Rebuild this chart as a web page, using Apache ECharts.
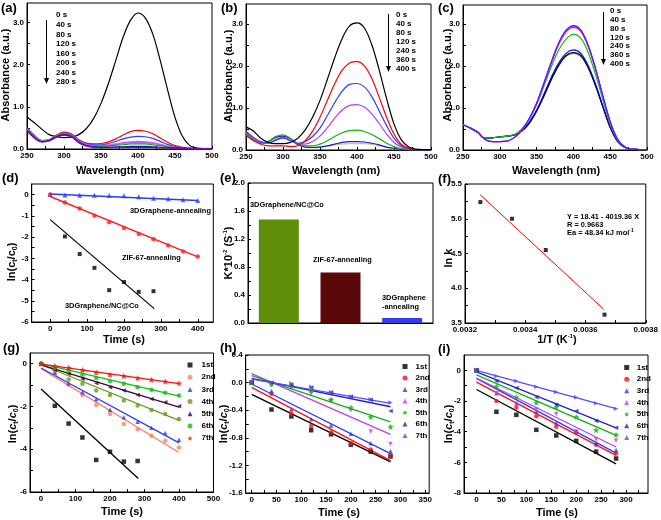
<!DOCTYPE html>
<html><head><meta charset="utf-8">
<script src="https://cdn.jsdelivr.net/npm/echarts@6/dist/echarts.min.js"></script>
<style>html,body{margin:0;padding:0;background:#fff}#c{width:661px;height:520px}</style>
</head><body><div id="c"></div>
<script>
const FONT = '"Liberation Sans", Arial, sans-serif';

// ---------- spectra (a)(b)(c) ----------
const wavelengths = [250,260,270,280,290,300,310,320,330,340,350,360,370,380,390,400,410,420,430,440,450,460,470,480,490,500];
const aLabels = ['0 s','40 s','80 s','120 s','160 s','200 s','240 s','280 s'];
const a0   = [0.76,0.62,0.47,0.34,0.29,0.27,0.28,0.34,0.48,0.72,1.08,1.55,2.1,2.65,3.05,3.22,3.1,2.72,2.1,1.4,0.75,0.3,0.08,0.02,0.01,0.01];
const a40  = [0.5,0.32,0.2,0.22,0.33,0.4,0.36,0.22,0.14,0.12,0.13,0.17,0.24,0.33,0.41,0.44,0.42,0.36,0.26,0.16,0.08,0.04,0.02,0.01,0.01,0.01];
const a80  = [0.5,0.32,0.2,0.22,0.32,0.38,0.34,0.2,0.13,0.1,0.1,0.13,0.18,0.24,0.28,0.3,0.29,0.25,0.18,0.11,0.06,0.03,0.02,0.01,0.01,0.01];
const a120 = [0.48,0.3,0.19,0.21,0.31,0.37,0.33,0.19,0.11,0.08,0.08,0.1,0.12,0.15,0.17,0.18,0.17,0.15,0.11,0.07,0.04,0.02,0.01,0.01,0.01,0.01];
const a160 = [0.47,0.29,0.19,0.21,0.3,0.36,0.32,0.18,0.1,0.07,0.07,0.08,0.1,0.13,0.15,0.15,0.15,0.13,0.1,0.06,0.03,0.02,0.01,0.01,0.01,0.01];
const a200 = [0.45,0.28,0.18,0.2,0.3,0.35,0.31,0.17,0.09,0.06,0.06,0.07,0.09,0.1,0.12,0.12,0.12,0.1,0.08,0.05,0.03,0.02,0.01,0.01,0.01,0.01];
const a240 = [0.44,0.27,0.17,0.2,0.29,0.34,0.3,0.16,0.08,0.05,0.04,0.04,0.05,0.05,0.06,0.06,0.06,0.05,0.04,0.03,0.02,0.02,0.01,0.01,0.01,0.01];
const a280 = [0.43,0.26,0.17,0.19,0.28,0.33,0.29,0.15,0.07,0.04,0.03,0.03,0.03,0.04,0.04,0.04,0.04,0.04,0.03,0.02,0.02,0.01,0.01,0.01,0.01,0.01];

const bLabels = ['0 s','40 s','80 s','120 s','240 s','360 s','400 s'];
const b0   = [0.55,0.45,0.28,0.18,0.15,0.15,0.18,0.28,0.48,0.78,1.18,1.68,2.2,2.65,2.95,3.02,2.9,2.5,1.9,1.22,0.62,0.24,0.07,0.02,0.01,0.01];
const b40  = [0.35,0.22,0.14,0.1,0.1,0.1,0.08,0.1,0.22,0.45,0.78,1.18,1.58,1.9,2.07,2.1,2.0,1.7,1.25,0.78,0.38,0.13,0.04,0.01,0.01,0.01];
const b80  = [0.45,0.3,0.2,0.17,0.23,0.28,0.22,0.16,0.2,0.32,0.52,0.82,1.13,1.4,1.56,1.58,1.5,1.27,0.93,0.58,0.28,0.1,0.03,0.01,0.01,0.01];
const b120 = [0.42,0.28,0.18,0.16,0.25,0.3,0.25,0.15,0.14,0.2,0.33,0.53,0.76,0.95,1.06,1.08,1.02,0.86,0.63,0.38,0.18,0.07,0.02,0.01,0.01,0.01];
const b240 = [0.38,0.25,0.17,0.2,0.32,0.36,0.28,0.15,0.1,0.1,0.14,0.22,0.32,0.41,0.46,0.47,0.44,0.37,0.27,0.16,0.08,0.03,0.01,0.01,0.01,0.01];
const b360 = [0.4,0.25,0.17,0.2,0.3,0.33,0.26,0.13,0.07,0.06,0.07,0.1,0.14,0.18,0.2,0.2,0.19,0.16,0.12,0.07,0.04,0.02,0.01,0.01,0.01,0.01];
const b400 = [0.38,0.24,0.16,0.2,0.3,0.32,0.25,0.12,0.07,0.06,0.07,0.09,0.12,0.14,0.15,0.15,0.15,0.13,0.1,0.06,0.03,0.02,0.01,0.01,0.01,0.01];

const cLabels = ['0 s','40 s','80 s','120 s','240 s','360 s','400 s'];
const c0   = [0.6,0.52,0.42,0.25,0.2,0.2,0.21,0.3,0.48,0.75,1.12,1.6,2.1,2.55,2.85,2.96,2.86,2.5,1.95,1.3,0.68,0.26,0.07,0.02,0.01,0.01];
const c40  = [0.6,0.52,0.42,0.25,0.2,0.2,0.21,0.3,0.47,0.74,1.1,1.58,2.08,2.53,2.83,2.94,2.84,2.48,1.93,1.28,0.67,0.25,0.07,0.02,0.01,0.01];
const c80  = [0.6,0.52,0.42,0.25,0.2,0.2,0.21,0.3,0.47,0.73,1.09,1.57,2.06,2.51,2.81,2.92,2.82,2.46,1.92,1.27,0.66,0.25,0.07,0.02,0.01,0.01];
const c120 = [0.6,0.52,0.42,0.28,0.29,0.31,0.33,0.37,0.5,0.74,1.08,1.52,1.98,2.38,2.64,2.75,2.66,2.32,1.8,1.2,0.62,0.24,0.07,0.02,0.01,0.01];
const c240 = [0.6,0.52,0.42,0.28,0.29,0.31,0.33,0.36,0.46,0.66,0.95,1.33,1.73,2.07,2.3,2.38,2.3,2.01,1.57,1.05,0.55,0.21,0.06,0.02,0.01,0.01];
const c360 = [0.6,0.52,0.42,0.28,0.29,0.31,0.33,0.36,0.45,0.64,0.93,1.29,1.68,2.02,2.25,2.32,2.25,1.97,1.54,1.03,0.54,0.21,0.06,0.02,0.01,0.01];
const c400 = [0.6,0.52,0.42,0.28,0.29,0.31,0.33,0.36,0.45,0.63,0.92,1.28,1.67,2.0,2.23,2.3,2.23,1.95,1.52,1.02,0.53,0.2,0.06,0.02,0.01,0.01];

// ---------- kinetics ----------
const tFull  = [0,40,80,120,160,200,240,280,320,360,400];
const tShort = [0,40,80,120,160,200,240,280];
const tFirst = [40,80,120,160,200,240,280];

const dNC  = [-1.97,-2.8,-3.45,-4.5,-4.12,-4.58,-4.55];
const dZIF = [0,-0.37,-0.65,-1.0,-1.3,-1.57,-1.85,-2.1,-2.4,-2.68,-2.92];
const dGA  = [0,-0.02,-0.03,-0.03,-0.04,-0.05,-0.1,-0.17,-0.2,-0.24,-0.28];
const dNCfitX = [0,282],  dNCfitY = [-1.18,-5.37];
const dZIFfitX = [0,400], dZIFfitY = [-0.09,-2.93];
const dGAfitX = [0,400],  dGAfitY = [0.03,-0.28];

const eCats = ['3DGraphene/NC@Co','ZIF-67-annealing','3DGraphene-annealing'];
const eVals = [1.48,0.72,0.07];

const fX = [0.003251,0.003356,0.003468,0.003663];
const fY = [5.24,5.0,4.55,3.62];
const fFitX = [0.00325,0.00366], fFitY = [5.347,3.699];

const gNames = ['1st','2nd','3rd','4th','5th','6th','7th'];
const g1 = [-1.97,-2.8,-3.45,-4.5,-4.12,-4.58,-4.55];
const g2 = [0,-0.5,-0.99,-1.46,-1.93,-2.35,-2.82,-3.06,-3.37,-3.6,-3.92];
const g3 = [0,-0.44,-0.91,-1.33,-1.66,-2.15,-2.5,-2.71,-3.0,-3.24,-3.56];
const g4 = [0,-0.34,-0.74,-0.94,-1.25,-1.46,-1.72,-1.96,-2.16,-2.35,-2.59];
const g5 = [0,-0.28,-0.47,-0.71,-0.91,-1.1,-1.25,-1.46,-1.65,-1.8,-1.99];
const g6 = [0,-0.19,-0.34,-0.52,-0.67,-0.82,-0.94,-1.1,-1.22,-1.36,-1.49];
const g7 = [0,-0.11,-0.19,-0.3,-0.41,-0.52,-0.58,-0.67,-0.75,-0.83,-0.91];
const gFitStart = [-1.18,-0.23,-0.2,-0.05,-0.05,0,-0.02];
const gFitEnd   = [-5.37,-4.15,-3.7,-2.65,-2.03,-1.52,-0.93];

const h1 = [0,-0.39,-0.49,-0.69,-0.75,-0.9,-1.0,-1.07];
const h2 = [0,-0.16,-0.45,-0.63,-0.72,-0.88,-0.97,-1.05];
const h3 = [0,-0.12,-0.39,-0.53,-0.62,-0.74,-0.88,-0.99];
const h4 = [0,-0.04,-0.07,-0.16,-0.26,-0.4,-0.71,-0.89];
const h5 = [0,-0.02,-0.05,-0.11,-0.25,-0.36,-0.5,-0.64];
const h6 = [0,0,-0.03,-0.07,-0.14,-0.2,-0.25,-0.41];
const h7 = [0,0,-0.01,-0.06,-0.14,-0.2,-0.24,-0.29];
const hFitStart = [-0.17,-0.07,-0.02,0.13,0.1,0.06,0.05];
const hFitEnd   = [-1.15,-1.13,-1.03,-0.75,-0.57,-0.35,-0.3];

const i1 = [0,-2.7,-2.9,-3.88,-4.25,-4.6,-5.3,-5.75];
const i2 = [0,-2.0,-2.42,-3.0,-3.68,-4.0,-4.85,-5.4];
const i3 = [0,-1.5,-2.15,-2.7,-3.45,-4.0,-4.75,-5.2];
const i4 = [0,-1.5,-2.2,-2.55,-2.85,-4.0,-4.5,-4.6];
const i5 = [0,-1.05,-1.75,-2.1,-2.4,-3.05,-3.9,-4.2];
const i6 = [0,-0.7,-1.15,-1.75,-2.25,-2.65,-3.3,-3.75];
const i7 = [0,-0.38,-0.7,-1.07,-1.42,-1.75,-2.15,-2.5];
const iFitStart = [-1.25,-0.77,-0.52,-0.5,-0.29,-0.1,0];
const iFitEnd   = [-6.1,-5.55,-5.4,-5.0,-4.24,-3.75,-2.5];

// ---------- tick labels ----------
const specXLabels = [250,300,350,400,450,500];
const specXTicks = [250,275,300,325,350,375,400,425,450,475,500];
const specYLabels = [0,1,2,3];
const specYTicks = [0,0.5,1,1.5,2,2.5,3];
const dXLabels = [0,100,200,300,400];
const dXTicks = [0,50,100,150,200,250,300,350,400];
const dYLabels = [-6,-5,-4,-3,-2,-1,0];
const dYTicks = [-6,-5.5,-5,-4.5,-4,-3.5,-3,-2.5,-2,-1.5,-1,-0.5,0];
const eYLabels = [0,0.4,0.8,1.2,1.6,2.0];
const eYTicks = [0,0.2,0.4,0.6,0.8,1.0,1.2,1.4,1.6,1.8,2.0];
const fXLabels = [0.0032,0.0034,0.0036,0.0038];
const fXTicks = [0.0032,0.0033,0.0034,0.0035,0.0036,0.0037,0.0038];
const fYLabels = [3.5,4.0,4.5,5.0,5.5];
const fYTicks = [3.5,3.75,4.0,4.25,4.5,4.75,5.0,5.25,5.5];
const gXLabels = [0,100,200,300,400,500];
const gXTicks = [0,50,100,150,200,250,300,350,400,450,500];
const gYLabels = [-6,-4,-2,0];
const gYTicks = [-6,-5,-4,-3,-2,-1,0];
const hXLabels = [0,50,100,150,200,250,300,350];
const hXTicks = [0,25,50,75,100,125,150,175,200,225,250,275,300,325,350];
const hYLabels = [-1.6,-1.2,-0.8,-0.4,0,0.4];
const hYTicks = [-1.6,-1.4,-1.2,-1.0,-0.8,-0.6,-0.4,-0.2,0,0.2,0.4];
const iXLabels = [0,50,100,150,200,250,300];
const iXTicks = [0,25,50,75,100,125,150,175,200,225,250,275,300,325];
const iYLabels = [-8,-6,-4,-2,0];
const iYTicks = [-8,-7,-6,-5,-4,-3,-2,-1,0];

// ---------- helpers ----------
const pairs = (xs, ys) => xs.map((x, i) => [x, ys[i]]);
function axis(g, min, max, labels, ticks, fmt) {
  return {
    type: 'value', gridIndex: g, min: min, max: max, scale: true,
    axisLine: {show: true, onZero: false, lineStyle: {color: '#000', width: 1}},
    axisTick: {show: true, inside: true, length: 3, customValues: ticks, lineStyle: {color: '#000', width: 1}},
    minorTick: {show: false},
    axisLabel: {show: true, customValues: labels, formatter: fmt, color: '#000', fontSize: 8, fontWeight: 'bold', fontFamily: FONT, margin: 3},
    splitLine: {show: false}
  };
}
const f0 = v => String(Math.round(v));
const f1 = v => (+v).toFixed(1);
const f4 = v => (+v).toFixed(4);

function spec(g, ys, color) {
  return {type: 'line', xAxisIndex: g, yAxisIndex: g, data: pairs(wavelengths, ys), smooth: 0.35,
    showSymbol: false, symbol: 'none', lineStyle: {color: color, width: 1.2}, itemStyle: {color: color}, silent: true};
}
function sc(g, name, xs, ys, color, symbol, rot, size) {
  return {type: 'scatter', name: name, xAxisIndex: g, yAxisIndex: g, data: pairs(xs, ys), symbol: symbol,
    symbolRotate: rot || 0, symbolSize: size || 4.5, itemStyle: {color: color}, z: 4, silent: true};
}
function ln(g, xs, ys, color, w) {
  return {type: 'line', xAxisIndex: g, yAxisIndex: g, data: pairs(xs, ys), showSymbol: false, symbol: 'none',
    lineStyle: {color: color, width: w || 1.2}, itemStyle: {color: color}, z: 3, silent: true};
}
const STAR = 'path://M0,-10L2.9,-4L9.5,-3.1L4.7,1.5L5.9,8.1L0,5L-5.9,8.1L-4.7,1.5L-9.5,-3.1L-2.9,-4Z';

const grids = [
  {left: 27, top: 3, width: 185, height: 146},
  {left: 246, top: 4, width: 185, height: 146},
  {left: 463, top: 5, width: 184, height: 145},
  {left: 31.7, top: 184, width: 181.6, height: 138},
  {left: 248, top: 183, width: 185, height: 140},
  {left: 465, top: 184, width: 183, height: 139},
  {left: 30, top: 353, width: 183.5, height: 139},
  {left: 245.7, top: 355, width: 183.5, height: 138},
  {left: 464, top: 355, width: 184, height: 138}
].map(g => Object.assign({show: true, borderColor: '#000', borderWidth: 1, backgroundColor: 'transparent', containLabel: false}, g));

const xAxes = [
  axis(0, 250, 500, specXLabels, specXTicks, f0),
  axis(1, 250, 500, specXLabels, specXTicks, f0),
  axis(2, 250, 500, specXLabels, specXTicks, f0),
  axis(3, -50, 442, dXLabels, dXTicks, f0),
  {type: 'category', gridIndex: 4, data: eCats, axisLine: {show: true, onZero: false, lineStyle: {color: '#000'}}, axisTick: {show: false}, axisLabel: {show: false}, splitLine: {show: false}},
  axis(5, 0.0032, 0.0038, fXLabels, fXTicks, f4),
  axis(6, -32, 500, gXLabels, gXTicks, f0),
  axis(7, -12, 358, hXLabels, hXTicks, f0),
  axis(8, -25, 344, iXLabels, iXTicks, f0)
];
const yAxes = [
  axis(0, 0, 3.457, specYLabels, specYTicks, f1),
  axis(1, 0, 3.47, specYLabels, specYTicks, f1),
  axis(2, 0, 3.45, specYLabels, specYTicks, f1),
  axis(3, -6, 0.5, dYLabels, dYTicks, f0),
  axis(4, 0, 2.0, eYLabels, eYTicks, f1),
  axis(5, 3.5, 5.5, fYLabels, fYTicks, f1),
  axis(6, -6, 0.5, gYLabels, gYTicks, f0),
  axis(7, -1.6, 0.4, hYLabels, hYTicks, f1),
  axis(8, -8, 1, iYLabels, iYTicks, f0)
];

const series = [];
// (a)
[[a0,'#000000'],[a40,'#ff0000'],[a80,'#2a3cff'],[a120,'#ff33ff'],[a160,'#b266ff'],[a200,'#00b000'],[a240,'#1010b0'],[a280,'#8000c0']]
  .forEach(p => series.push(spec(0, p[0], p[1])));
// (b)
[[b400,'#c8cc80'],[b360,'#1a1acc'],[b240,'#10b010'],[b120,'#b040ff'],[b80,'#2a3cff'],[b40,'#ff0000'],[b0,'#000000']]
  .forEach(p => series.push(spec(1, p[0], p[1])));
// (c)
[[c400,'#7a8a20'],[c360,'#000000'],[c240,'#0000ff'],[c120,'#10c010'],[c80,'#ff2050'],[c40,'#ff00ff'],[c0,'#3030ff']]
  .forEach(p => series.push(spec(2, p[0], p[1])));
// (d)
series.push(ln(3, dGAfitX, dGAfitY, '#2a3cff', 1.5));
series.push(ln(3, dZIFfitX, dZIFfitY, '#ff2020', 1.5));
series.push(ln(3, dNCfitX, dNCfitY, '#000000', 1.2));
series.push(sc(3, 'dGA', tFull, dGA, '#2a3cff', 'triangle', 0, 5));
series.push(sc(3, 'dZIF', tFull, dZIF, '#ff2020', 'circle', 0, 4.5));
series.push(sc(3, 'dNC', tFirst, dNC, '#000000', 'rect', 0, 4));
// (e)
series.push({type: 'bar', xAxisIndex: 4, yAxisIndex: 4, barWidth: 40, silent: true,
  data: eVals.map((v, i) => ({value: v, itemStyle: {color: ['#5f8f0a', '#5a0808', '#3838f0'][i]}}))});
// (f)
series.push(ln(5, fFitX, fFitY, '#ff0000', 1));
series.push(sc(5, 'fpts', fX, fY, '#000000', 'rect', 0, 4));
// (g)
const gCol = ['#000000', '#ff8060', '#2a3cff', '#6b9a1f', '#400040', '#10c010', '#ff1010'];
const gSym = [['rect',0],['circle',0],['triangle',0],['circle',0],['triangle',90],['circle',0],[STAR,0]];
const gData = [g1, g2, g3, g4, g5, g6, g7];
gData.forEach((d, k) => series.push(ln(6, [0, k === 0 ? 282 : 400], [gFitStart[k], gFitEnd[k]], gCol[k], 1.3)));
gData.forEach((d, k) => series.push(sc(6, 'g' + gNames[k], k === 0 ? tFirst : tFull, d, gCol[k], gSym[k][0], gSym[k][1], k === 6 ? 6 : 4.5)));
// (h) & (i)
const hiCol = ['#000000', '#ff1010', '#2a3cff', '#c040f0', '#10b010', '#2020d0', '#5a4cff'];
const hiSym = [['rect',0],['circle',0],['triangle',0],['triangle',180],[STAR,0],['triangle',90],['triangle',-90]];
const hData = [h1, h2, h3, h4, h5, h6, h7];
hData.forEach((d, k) => series.push(ln(7, [0, 280], [hFitStart[k], hFitEnd[k]], hiCol[k], 1.3)));
hData.forEach((d, k) => series.push(sc(7, 'h' + gNames[k], tShort, d, hiCol[k], hiSym[k][0], hiSym[k][1], k === 4 ? 6 : 4.5)));
const iData = [i1, i2, i3, i4, i5, i6, i7];
iData.forEach((d, k) => series.push(ln(8, [0, 280], [iFitStart[k], iFitEnd[k]], hiCol[k], 1.3)));
iData.forEach((d, k) => series.push(sc(8, 'i' + gNames[k], tShort, d, hiCol[k], hiSym[k][0], hiSym[k][1], k === 4 ? 6 : 4.5)));

function legendFor(prefix, left, top, pad, gap) {
  return {data: gNames.map(n => prefix + n), orient: 'vertical', left: left, top: top, padding: 0,
    itemWidth: 5, itemHeight: 5, itemGap: gap, selectedMode: false, formatter: n => n.slice(1),
    textStyle: {fontSize: 8, fontWeight: 'bold', fontFamily: FONT, color: '#000', lineHeight: 5, padding: [0, 0, 0, pad]}};
}

// ---------- text / annotations ----------
const B = {fill: '#000', fontWeight: 'bold', fontFamily: FONT};
function txt(x, y, text, size, align) {
  return {type: 'text', x: x, y: y, silent: true, style: Object.assign({text: text, fontSize: size, textAlign: align || 'left', textVerticalAlign: 'middle'}, B)};
}
function vtxt(x, y, text, size, rich) {
  return {type: 'text', x: x, y: y, rotation: Math.PI / 2, silent: true,
    style: Object.assign({text: text, fontSize: size, textAlign: 'center', textVerticalAlign: 'middle', rich: rich}, B)};
}
function block(x, y, lines, size, lh) {
  return {type: 'text', x: x, y: y, silent: true, style: Object.assign({text: lines.join('\n'), fontSize: size, lineHeight: lh, textAlign: 'left', textVerticalAlign: 'top'}, B)};
}
function arrow(x, y1, y2) {
  return [
    {type: 'line', silent: true, shape: {x1: x, y1: y1, x2: x, y2: y2 - 5}, style: {stroke: '#000', lineWidth: 1}},
    {type: 'polygon', silent: true, shape: {points: [[x - 2.5, y2 - 6], [x + 2.5, y2 - 6], [x, y2]]}, style: {fill: '#000'}}
  ];
}
const R = {
  n: {fontSize: 11, fontWeight: 'bold', fontFamily: FONT, fill: '#000', lineHeight: 14},
  it: {fontSize: 11, fontWeight: 'bold', fontStyle: 'italic', fontFamily: FONT, fill: '#000', lineHeight: 14},
  sub: {fontSize: 7, fontWeight: 'bold', fontFamily: FONT, fill: '#000', lineHeight: 14, verticalAlign: 'bottom'},
  sup: {fontSize: 6, fontWeight: 'bold', fontFamily: FONT, fill: '#000', lineHeight: 14, verticalAlign: 'top'},
  s8: {fontSize: 7.5, fontWeight: 'bold', fontFamily: FONT, fill: '#000', lineHeight: 10},
  sup8: {fontSize: 5, fontWeight: 'bold', fontFamily: FONT, fill: '#000', lineHeight: 10, verticalAlign: 'top'}
};
const lnPlain = '{n|ln(c}{sub|t}{n|/c}{sub|0}{n|)}';
const lnItal = '{n|ln(}{it|c}{sub|t}{n|/}{it|c}{sub|0}{n|)}';
const AN = 7.4;

const graphics = [
  txt(1, 8, '(a)', 13), txt(221, 8, '(b)', 13), txt(438, 8, '(c)', 13),
  txt(2, 178, '(d)', 13), txt(220, 178, '(e)', 13), txt(438, 179, '(f)', 13),
  txt(3, 348, '(g)', 13), txt(220, 348, '(h)', 13), txt(438, 349, '(i)', 13),
  vtxt(6, 75, 'Absorbance (a.u.)', 11), vtxt(229, 76, 'Absorbance (a.u.)', 11), vtxt(448, 75, 'Absorbance (a.u.)', 11),
  txt(120, 171, 'Wavelength (nm)', 11, 'center'), txt(336, 171, 'Wavelength (nm)', 11, 'center'), txt(556, 171, 'Wavelength (nm)', 11, 'center'),
  vtxt(12, 262, lnPlain, 11, R), vtxt(229, 253, '{n|K*10}{sup|-2}{n| (S}{sup|-1}{n|)}', 11, R), vtxt(449, 258, 'ln k', 11),
  txt(124, 340, 'Time (s)', 11, 'center'), {type: 'text', x: 557, y: 340, silent: true, style: Object.assign({text: '{n|1/T (K}{sup|-1}{n|)}', rich: R, textAlign: 'center', textVerticalAlign: 'middle', fontSize: 11}, B)},
  vtxt(13, 424, lnItal, 11, R), vtxt(224, 424, lnItal, 11, R), vtxt(449, 424, lnItal, 11, R),
  txt(122, 512, 'Time (s)', 11, 'center'), txt(339, 513, 'Time (s)', 11, 'center'), txt(557, 513, 'Time (s)', 11, 'center'),
  block(56, 10.5, aLabels, 8, 9.57), block(396, 10.5, bLabels, 8, 9), block(610, 6.5, cLabels, 8, 8.83),
  ...arrow(46.5, 20, 84), ...arrow(388.5, 14, 72), ...arrow(603.5, 12, 65),
  txt(130, 211, '3DGraphene-annealing', AN), txt(122, 258, 'ZIF-67-annealing', AN), txt(65, 306, '3DGraphene/NC@Co', AN),
  txt(250, 205, '3DGraphene/NC@Co', AN), txt(313, 260, 'ZIF-67-annealing', AN), txt(382, 298, '3DGraphene', AN), txt(382, 307, '-annealing', AN),
  txt(567, 217, 'Y = 18.41 - 4019.36 X', AN), txt(567, 225, 'R = 0.9663', AN),
  {type: 'text', x: 567, y: 233, silent: true, style: Object.assign({text: '{s8|Ea = 48.34 kJ mol}{sup8|-1}', rich: R, textAlign: 'left', textVerticalAlign: 'middle', fontSize: AN}, B)}
];

const chart = echarts.init(document.getElementById('c'), null, {renderer: 'canvas'});
chart.setOption({
  animation: false,
  backgroundColor: '#fff',
  textStyle: {fontFamily: FONT},
  grid: grids,
  xAxis: xAxes,
  yAxis: yAxes,
  legend: [legendFor('g', 187.5, 361, 4, 4.2), legendFor('h', 402.5, 362.5, 3, 3.5), legendFor('i', 624.2, 363.5, 2.5, 3.67)],
  series: series,
  graphic: graphics
});
</script></body></html>
